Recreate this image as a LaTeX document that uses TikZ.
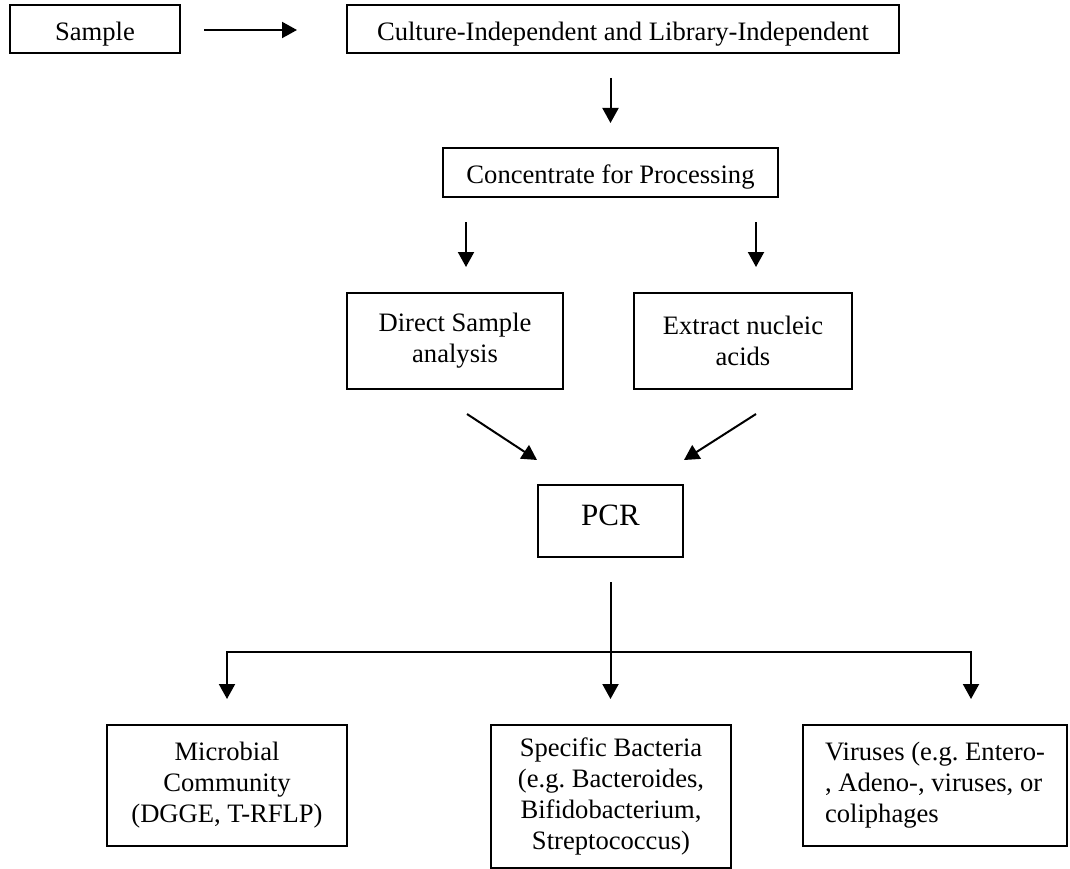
\documentclass[tikz,border=0pt]{standalone}
\usepackage{fontspec}
\setmainfont{Liberation Serif}
\usetikzlibrary{arrows.meta,calc}
\frenchspacing
\begin{document}
\begin{tikzpicture}[x=1pt,y=-1pt,
  box/.style={draw, line width=2pt, inner sep=0pt, align=center,
    font=\fontsize{26.6}{31}\selectfont\frenchspacing},
  arr/.style={line width=2pt, -{Triangle[length=15pt,width=16pt]}},
  arrboth/.style={line width=2pt, {Triangle[length=15pt,width=16pt]}-{Triangle[length=15pt,width=16pt]}}]
\useasboundingbox (0,0) rectangle (1070,869);
\node[box, minimum width=170pt, minimum height=48pt, text height=24pt, text depth=0pt] (sample) at (95,29) {Sample};
\node[box, minimum width=552pt, minimum height=48pt, text height=24pt, text depth=0pt] (culture) at (623,29) {Culture-Independent and Library-Independent};
\node[box, minimum width=335pt, minimum height=49pt, text height=21pt, text depth=0pt] (conc) at (610.5,172.5) {Concentrate for Processing};
\node[box, minimum width=216pt, minimum height=96pt] (direct) at (455,341) {Direct Sample\\analysis};
\node[box, minimum width=218pt, minimum height=96pt] (extract) at (743,341) {Extract nucleic\\acids};
\node[box, minimum width=145pt, minimum height=72pt, text height=8pt, text depth=0pt,
  font=\fontsize{31}{36}\selectfont] (pcr) at (610.5,521) {PCR};
\node[box, minimum width=240pt, minimum height=121pt] (micro) at (227,785.5) {Microbial\\Community\\(DGGE, T-RFLP)};
\node[box, minimum width=240pt, minimum height=143pt] (specific) at (611,796.5) {Specific Bacteria\\(e.g. Bacteroides,\\Bifidobacterium,\\Streptococcus)};
\node[box, minimum width=264pt, minimum height=121pt, align=left] (viruses) at (935,785.5) {Viruses (e.g. Entero-\\, Adeno-, viruses, or\\coliphages};

\draw[arr] ($(sample.east)+(23,1)$) -- ($(culture.west)+(-49,1)$);
\draw[arr] ($(conc.north |- culture.south)+(0,24)$) -- ($(conc.north)+(0,-24)$);
\draw[arr] ($(conc.south west)+(24,24)$) -- ($(conc.south west |- direct.north)+(24,-25)$);
\draw[arr] ($(conc.south east)+(-23,24)$) -- ($(conc.south east |- extract.north)+(-23,-25)$);
\draw[arr] ($(direct.south)+(12,24)$) -- ($(pcr.north west)+(0,-24)$);
\draw[arr] ($(extract.south)+(13,24)$) -- ($(pcr.north east)+(0,-24)$);
\draw[arr] ($(pcr.south)+(0,24)$) -- ($(pcr.south |- specific.north)+(0,-25)$);
\draw[arrboth] ($(micro.north)+(0,-25)$) |- ($(viruses.north)+(36,-72)$) -- ($(viruses.north)+(36,-25)$);
\end{tikzpicture}
\end{document}
